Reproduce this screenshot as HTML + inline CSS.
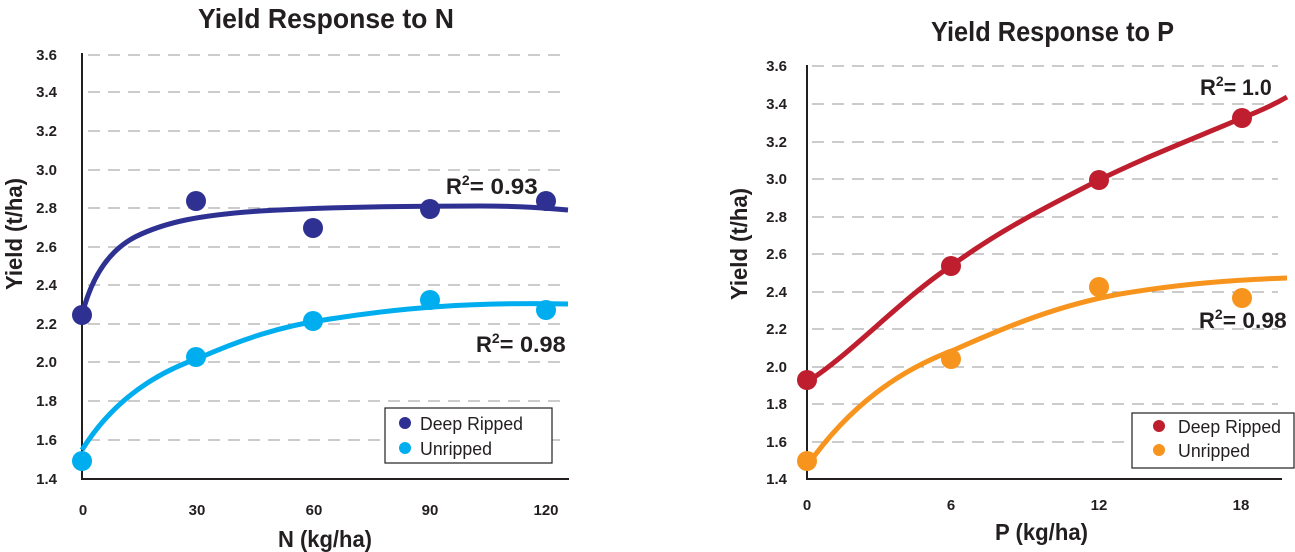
<!DOCTYPE html>
<html><head><meta charset="utf-8"><style>
html,body{margin:0;padding:0;background:#fff}
svg{display:block}
text{font-family:"Liberation Sans Narrow","Liberation Sans",sans-serif;font-weight:bold;fill:#231f20}
.t{font-size:15px}
.g{stroke:#999;stroke-width:1;stroke-dasharray:12,8}
.lg{font-weight:normal;font-size:18px}
</style></head><body>
<svg width="1295" height="552" viewBox="0 0 1295 552" xmlns="http://www.w3.org/2000/svg">
<!-- LEFT CHART -->
<text x="198" y="28" textLength="256" lengthAdjust="spacingAndGlyphs" style="font-size:28px">Yield Response to N</text>
<g>
<line class="g" x1="88" x2="565" y1="55" y2="55"/>
<line class="g" x1="88" x2="565" y1="92" y2="92"/>
<line class="g" x1="88" x2="565" y1="131" y2="131"/>
<line class="g" x1="88" x2="565" y1="170" y2="170"/>
<line class="g" x1="88" x2="565" y1="208" y2="208"/>
<line class="g" x1="88" x2="565" y1="247" y2="247"/>
<line class="g" x1="88" x2="565" y1="285" y2="285"/>
<line class="g" x1="88" x2="565" y1="324" y2="324"/>
<line class="g" x1="88" x2="565" y1="362" y2="362"/>
<line class="g" x1="88" x2="565" y1="401" y2="401"/>
<line class="g" x1="88" x2="565" y1="440" y2="440"/>
</g>
<line x1="82" y1="53" x2="82" y2="479" stroke="#231f20" stroke-width="2"/>
<line x1="81" y1="479" x2="569" y2="479" stroke="#231f20" stroke-width="2"/>
<g class="t" text-anchor="end">
<text x="57" y="60">3.6</text><text x="57" y="97">3.4</text><text x="57" y="136">3.2</text><text x="57" y="175">3.0</text>
<text x="57" y="213">2.8</text><text x="57" y="252">2.6</text><text x="57" y="290">2.4</text><text x="57" y="329">2.2</text>
<text x="57" y="367">2.0</text><text x="57" y="406">1.8</text><text x="57" y="445">1.6</text><text x="57" y="484">1.4</text>
</g>
<g class="t" text-anchor="middle">
<text x="83" y="515">0</text><text x="197" y="515">30</text><text x="314" y="515">60</text><text x="430" y="515">90</text><text x="546" y="515">120</text>
</g>
<text x="278" y="547" textLength="94" lengthAdjust="spacingAndGlyphs" style="font-size:23px">N (kg/ha)</text>
<text transform="translate(22,290) rotate(-90)" textLength="112" lengthAdjust="spacingAndGlyphs" style="font-size:23px">Yield (t/ha)</text>
<path fill="none" stroke="#2e3192" stroke-width="5" d="M82,315 C92,275 110,250 135,237 C165,222 200,215 260,211 C330,207 420,206 480,206 C520,206 545,208 568,210"/>
<path fill="none" stroke="#00aeef" stroke-width="5" d="M82,450 C110,405 150,375 199,358 C240,340 280,326 330,319 C400,308 470,302 568,304"/>
<g fill="#2e3192"><circle cx="82" cy="315" r="10"/><circle cx="196" cy="201" r="10"/><circle cx="313" cy="228" r="10"/><circle cx="430" cy="209" r="10"/><circle cx="546" cy="201" r="10"/></g>
<g fill="#00aeef"><circle cx="82" cy="461" r="10"/><circle cx="196" cy="357" r="10"/><circle cx="313" cy="321" r="10"/><circle cx="430" cy="300" r="10"/><circle cx="546" cy="310" r="10"/></g>
<text x="446" y="194" style="font-size:22px">R<tspan dy="-9" style="font-size:14px">2</tspan><tspan dy="9" textLength="68" lengthAdjust="spacingAndGlyphs">= 0.93</tspan></text>
<text x="476" y="352" style="font-size:22px">R<tspan dy="-9" style="font-size:14px">2</tspan><tspan dy="9" textLength="66" lengthAdjust="spacingAndGlyphs">= 0.98</tspan></text>
<rect x="385" y="408" width="167" height="55" fill="#fff" stroke="#231f20" stroke-width="1.2"/>
<circle cx="405" cy="423" r="6" fill="#2e3192"/><circle cx="405" cy="448" r="6" fill="#00aeef"/>
<text class="lg" x="420" y="430" textLength="103" lengthAdjust="spacingAndGlyphs">Deep Ripped</text><text class="lg" x="420" y="455" textLength="72" lengthAdjust="spacingAndGlyphs">Unripped</text>

<!-- RIGHT CHART -->
<text x="931" y="41" textLength="243" lengthAdjust="spacingAndGlyphs" style="font-size:28px">Yield Response to P</text>
<g>
<line class="g" x1="812" x2="1278" y1="66" y2="66"/>
<line class="g" x1="812" x2="1278" y1="104" y2="104"/>
<line class="g" x1="812" x2="1278" y1="142" y2="142"/>
<line class="g" x1="812" x2="1278" y1="179" y2="179"/>
<line class="g" x1="812" x2="1278" y1="217" y2="217"/>
<line class="g" x1="812" x2="1278" y1="254" y2="254"/>
<line class="g" x1="812" x2="1278" y1="292" y2="292"/>
<line class="g" x1="812" x2="1278" y1="329" y2="329"/>
<line class="g" x1="812" x2="1278" y1="367" y2="367"/>
<line class="g" x1="812" x2="1278" y1="404" y2="404"/>
<line class="g" x1="812" x2="1278" y1="442" y2="442"/>
</g>
<line x1="807" y1="65" x2="807" y2="479" stroke="#231f20" stroke-width="2"/>
<line x1="806" y1="479" x2="1282" y2="479" stroke="#231f20" stroke-width="2"/>
<g class="t" text-anchor="end">
<text x="787" y="71">3.6</text><text x="787" y="109">3.4</text><text x="787" y="147">3.2</text><text x="787" y="184">3.0</text>
<text x="787" y="222">2.8</text><text x="787" y="259">2.6</text><text x="787" y="297">2.4</text><text x="787" y="334">2.2</text>
<text x="787" y="372">2.0</text><text x="787" y="409">1.8</text><text x="787" y="447">1.6</text><text x="787" y="484">1.4</text>
</g>
<g class="t" text-anchor="middle">
<text x="807" y="510">0</text><text x="951" y="510">6</text><text x="1099" y="510">12</text><text x="1241" y="510">18</text>
</g>
<text x="995" y="540" textLength="93" lengthAdjust="spacingAndGlyphs" style="font-size:23px">P (kg/ha)</text>
<text transform="translate(747,300) rotate(-90)" textLength="112" lengthAdjust="spacingAndGlyphs" style="font-size:23px">Yield (t/ha)</text>
<path fill="none" stroke="#be1e2d" stroke-width="5" d="M807,382 C850,355 900,300 951,266 C1000,230 1050,205 1099,180 C1150,155 1200,136 1242,118 C1260,111 1275,104 1287,97"/>
<path fill="none" stroke="#f7941d" stroke-width="5" d="M807,466 C850,405 900,370 954,350 C1010,325 1060,305 1120,294 C1180,284 1230,280 1287,278"/>
<g fill="#be1e2d"><circle cx="807" cy="380" r="10"/><circle cx="951" cy="266" r="10"/><circle cx="1099" cy="180" r="10"/><circle cx="1242" cy="118" r="10"/></g>
<g fill="#f7941d"><circle cx="807" cy="461" r="10"/><circle cx="951" cy="359" r="10"/><circle cx="1099" cy="287" r="10"/><circle cx="1242" cy="298" r="10"/></g>
<text x="1200" y="95" style="font-size:22px">R<tspan dy="-9" style="font-size:14px">2</tspan><tspan dy="9" textLength="48" lengthAdjust="spacingAndGlyphs">= 1.0</tspan></text>
<text x="1199" y="328" style="font-size:22px">R<tspan dy="-9" style="font-size:14px">2</tspan><tspan dy="9" textLength="64" lengthAdjust="spacingAndGlyphs">= 0.98</tspan></text>
<rect x="1132" y="413" width="162" height="55" fill="#fff" stroke="#231f20" stroke-width="1.2"/>
<circle cx="1159" cy="426" r="6" fill="#be1e2d"/><circle cx="1159" cy="450" r="6" fill="#f7941d"/>
<text class="lg" x="1178" y="433" textLength="103" lengthAdjust="spacingAndGlyphs">Deep Ripped</text><text class="lg" x="1178" y="457" textLength="72" lengthAdjust="spacingAndGlyphs">Unripped</text>
</svg>
</body></html>
